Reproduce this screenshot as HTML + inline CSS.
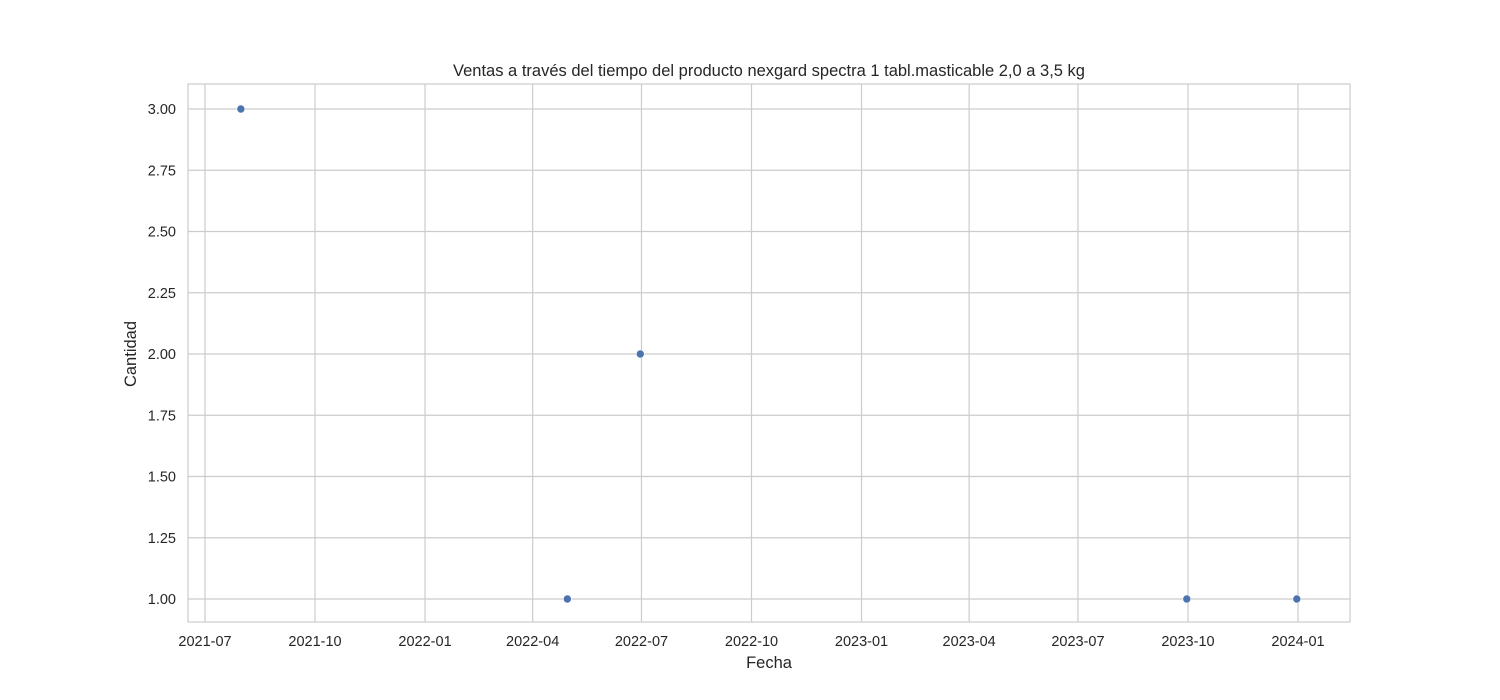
<!DOCTYPE html>
<html><head><meta charset="utf-8"><style>
body{margin:0;background:#fff;}
svg{display:block;font-family:"Liberation Sans","DejaVu Sans",sans-serif;}
</style></head><body>
<svg id="chart" width="1500" height="700">
<rect width="1500" height="700" fill="#fff"/>
<g id="grid"></g>
<rect x="188" y="84" width="1162" height="538" fill="none" stroke="#cccccc" stroke-width="1.2"/>
<g id="ticks"></g>
<g id="marks"></g>
<text x="769" y="76" text-anchor="middle" font-size="16.5" fill="#262626">Ventas a través del tiempo del producto nexgard spectra 1 tabl.masticable 2,0 a 3,5 kg</text>
<text x="769" y="668" text-anchor="middle" font-size="16.5" fill="#262626">Fecha</text>
<text transform="translate(136,354) rotate(-90)" text-anchor="middle" font-size="16.5" fill="#262626">Cantidad</text>
</svg>
<script>
const dates = ["2021-07-31","2022-04-30","2022-06-30","2023-09-30","2023-12-31"];
const quantities = [3,1,2,1,1];
const xTickLabels = ["2021-07","2021-10","2022-01","2022-04","2022-07","2022-10","2023-01","2023-04","2023-07","2023-10","2024-01"];
const yTicks = [1.00,1.25,1.50,1.75,2.00,2.25,2.50,2.75,3.00];

const NS="http://www.w3.org/2000/svg";
const d0=Date.UTC(2021,6,1), d1=Date.UTC(2024,0,1);
function ms(s){const p=s.split("-").map(Number);return Date.UTC(p[0],p[1]-1,p[2]||1);}
function xs(t){return 205+(t-d0)/(d1-d0)*(1298-205);}
function ys(v){return 599-(v-1)*245;}
function mk(tag,attrs,parent){const e=document.createElementNS(NS,tag);for(const k in attrs)e.setAttribute(k,attrs[k]);parent.appendChild(e);return e;}
const grid=document.getElementById("grid"),ticks=document.getElementById("ticks"),marks=document.getElementById("marks");
xTickLabels.forEach(l=>{
  const x=xs(ms(l));
  const g=mk("line",{x1:x,x2:x,y1:84,y2:622,stroke:"#cccccc","stroke-width":1.2},grid);
  
  
  const t=mk("text",{x:x,y:646,"text-anchor":"middle","font-size":14.5,fill:"#262626"},ticks);
  t.textContent=l;
  
  
});
yTicks.forEach(v=>{
  const y=ys(v);
  const g=mk("line",{x1:188,x2:1350,y1:y,y2:y,stroke:"#cccccc","stroke-width":1.2},grid);
  
  
  const t=mk("text",{x:176,y:y+5,"text-anchor":"end","font-size":14.5,fill:"#262626"},ticks);
  t.textContent=v.toFixed(2);
  
  
});
dates.forEach((d,i)=>{
  const c=mk("circle",{cx:xs(ms(d)),cy:ys(quantities[i]),r:4,fill:"#4c72b0",stroke:"#fff","stroke-width":0.6},marks);
  
  
});
</script>
</body></html>
